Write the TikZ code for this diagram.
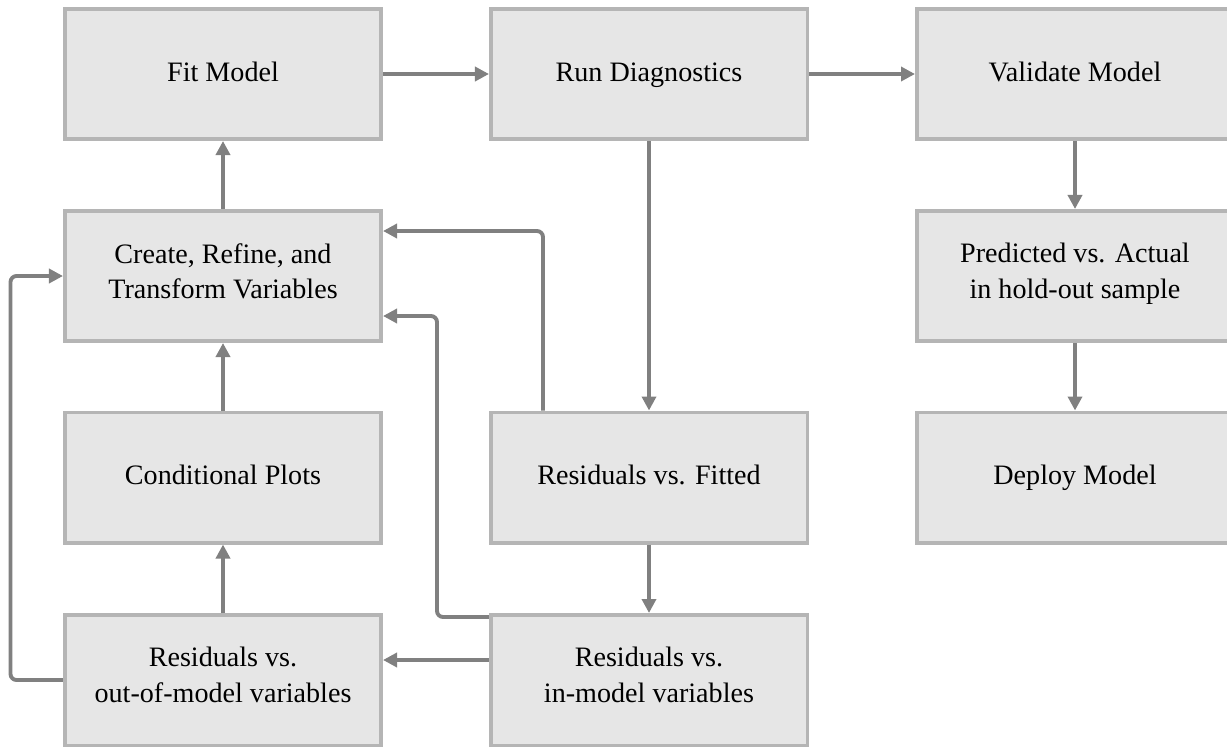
\documentclass[tikz,border=0pt]{standalone}
\usepackage{fontspec}
\setmainfont{Liberation Serif}
\usetikzlibrary{arrows.meta}

\definecolor{boxfill}{HTML}{E6E6E6}
\definecolor{boxline}{HTML}{B5B5B5}
\definecolor{linkgray}{HTML}{808080}

\begin{document}
\begin{tikzpicture}[
    block/.style={draw=boxline, fill=boxfill, line width=2pt, rectangle, minimum height=2.61cm, minimum width=6.33cm, align=center, font=\fontsize{16}{20}\selectfont, execute at begin node=\strut, execute at end node=\strut},
    link/.style={draw=linkgray, line width=2.2pt, rounded corners=0.12cm, -{Triangle[length=0.28cm, width=0.28cm]}}
  ]
    \useasboundingbox (0,0) rectangle (24.54,-14.92);

    % Blocks
    \node[block] at (4.46,-1.48)  (fit)      {Fit Model};
    \node[block] at (12.98,-1.48) (diag)     {Run Diagnostics};
    \node[block] at (21.5,-1.48)  (validate) {Validate Model};
    \node[block] at (4.46,-5.52)  (create)   {Create, Refine, and\\Transform Variables};
    \node[block] at (21.5,-5.52)  (predict)  {Predicted vs. Actual\\in hold-out sample};
    \node[block] at (4.46,-9.55)  (condplot) {Conditional Plots};
    \node[block] at (12.98,-9.55) (fitted)   {Residuals vs. Fitted};
    \node[block] at (21.5,-9.55)  (deploy)   {Deploy Model};
    \node[block] at (4.46,-13.6)  (outmodel) {Residuals vs.\\out-of-model variables};
    \node[block] at (12.98,-13.6) (inmodel)  {Residuals vs.\\in-model variables};

    % Main flow
    \draw[link] (fit) -- (diag);
    \draw[link] (diag) -- (validate);
    \draw[link] (validate) -- (predict);
    \draw[link] (predict) -- (deploy);
    \draw[link] (diag) -- (fitted);
    \draw[link] (fitted) -- (inmodel);

    % Feedback loops
    \draw[link] (create) -- (fit);
    \draw[link] (condplot) -- (create);
    \draw[link] (outmodel) -- (condplot);
    \draw[link] ([yshift=0.4cm]inmodel.west) -- ([yshift=0.4cm]outmodel.east);
    \draw[link] ([yshift=-0.08cm]inmodel.north west) -- ++(-1.04,0) |- ([yshift=-0.8cm]create.east);
    \draw[link] ([xshift=-2.12cm]fitted.north) |- ([yshift=0.9cm]create.east);
    \draw[link] (outmodel.west) -- ++(-1.05,0) |- (create.west);

  \end{tikzpicture}
\end{document}
